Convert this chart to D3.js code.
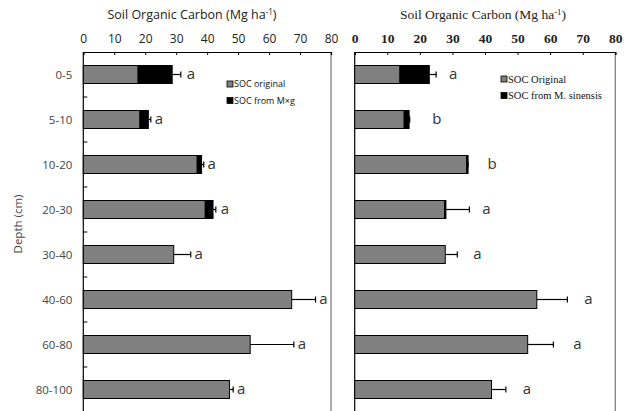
<!DOCTYPE html>
<html><head><meta charset="utf-8">
<script src="https://cdn.jsdelivr.net/npm/d3@7"></script>
<style>body{margin:0;background:#fff}svg{display:block}</style>
</head><body>
<svg id="c" width="628" height="411"></svg>
<script>
const depths = ["0-5","5-10","10-20","20-30","30-40","40-60","60-80","80-100"];
const xTicks = [0,10,20,30,40,50,60,70,80];
// Left panel (Mxg)
const leftOriginal = [17.7,18.3,36.8,39.4,29.2,67.3,53.9,47.2];
const leftFromCrop = [11.0,2.7,1.4,2.5,0,0,0,0];
const leftErr      = [2.8,0.8,0.7,0.9,5.5,7.7,14.1,1.2];
const leftLetters  = ["a","a","a","a","a","a","a","a"];
// Right panel (M. sinensis)
const rightOriginal = [13.9,15.2,34.4,27.6,27.8,55.9,53.1,42.0];
const rightFromCrop = [9.0,1.5,0.4,0.4,0,0,0,0];
const rightErr      = [2.1,0.2,0,7.2,3.7,9.4,7.9,4.4];
const rightLetters  = ["a","b","b","a","a","a","a","a"];

const svg = d3.select("#c");

function panel(opt){
  const g = svg.append("g");
  const x = d3.scaleLinear().domain([0,80]).range([opt.x0,opt.x1]);
  const y = d3.scaleBand().domain(depths).range([52,412]).paddingInner(0.6).paddingOuter(0.3);
  const band = d3.scaleBand().domain(depths).range([52,412]);
  // frame
  g.append("line").attr("x1",opt.x1).attr("x2",opt.x1).attr("y1",52).attr("y2",411).attr("stroke","#777").attr("stroke-width",1.2);
  // top axis
  const ax = g.append("g").attr("transform","translate(0,52)")
    .call(d3.axisTop(x).tickValues(xTicks).tickSize(-3).tickPadding(9));
  ax.select(".domain").attr("stroke","#000").attr("stroke-width",1.2);
  ax.selectAll("text").attr("font-family",opt.font).attr("font-size",opt.tickSize).attr("fill","#222")
    .attr("font-weight",opt.tickWeight);
  // left axis
  g.append("line").attr("x1",opt.x0).attr("x2",opt.x0).attr("y1",52).attr("y2",411).attr("stroke","#000").attr("stroke-width",1.2);
  if(opt.yTicks){
    g.selectAll(".yt").data(depths.slice(1)).join("line")
      .attr("x1",opt.x0).attr("x2",opt.x0+4)
      .attr("y1",d=>band(d)).attr("y2",d=>band(d)).attr("stroke","#000");
    g.selectAll(".yl").data(depths).join("text")
      .attr("x",opt.x0-11).attr("y",d=>y(d)+y.bandwidth()/2).attr("dy","0.35em")
      .attr("text-anchor","end").attr("font-family","Open Sans, sans-serif").attr("font-size",11.5).attr("fill","#444")
      .text(d=>d);
  }
  // bars
  g.selectAll(".bo").data(depths).join("rect")
    .attr("x",x(0)).attr("y",d=>y(d)).attr("height",y.bandwidth())
    .attr("width",(d,i)=>x(opt.orig[i])-x(0))
    .attr("fill","#808080").attr("stroke","#000").attr("stroke-width",1);
  g.selectAll(".bc").data(depths).join("rect")
    .attr("x",(d,i)=>x(opt.orig[i])).attr("y",d=>y(d)).attr("height",y.bandwidth())
    .attr("width",(d,i)=>x(opt.orig[i]+opt.crop[i])-x(opt.orig[i]))
    .attr("fill","#000").attr("stroke",(d,i)=>opt.crop[i]>0?"#000":"none").attr("stroke-width",1);
  // error bars
  const tot = i => opt.orig[i]+opt.crop[i];
  g.selectAll(".eb").data(depths).join("line")
    .attr("x1",(d,i)=>x(tot(i))).attr("x2",(d,i)=>x(tot(i)+opt.err[i]))
    .attr("y1",d=>y(d)+y.bandwidth()/2).attr("y2",d=>y(d)+y.bandwidth()/2)
    .attr("stroke","#000").attr("stroke-width",1.2);
  g.selectAll(".ec").data(depths).join("line")
    .attr("x1",(d,i)=>x(tot(i)+opt.err[i])).attr("x2",(d,i)=>x(tot(i)+opt.err[i]))
    .attr("y1",d=>y(d)+y.bandwidth()/2-3).attr("y2",d=>y(d)+y.bandwidth()/2+3)
    .attr("stroke","#000").attr("stroke-width",1.2);
  // letters
  g.selectAll(".lt").data(depths).join("text")
    .attr("x",(d,i)=>x(tot(i)+opt.err[i])+opt.letterOff[i])
    .attr("y",d=>y(d)+y.bandwidth()/2-1).attr("dy","0.35em")
    .attr("text-anchor","middle").attr("font-family","Open Sans, sans-serif").attr("font-size",15).attr("fill","#333")
    .text((d,i)=>opt.letters[i]);
  // title
  const t = g.append("text").attr("x",opt.titleX).attr("y",19).attr("text-anchor","middle")
    .attr("font-family",opt.font).attr("font-size",opt.titleSize).attr("fill","#222");
  t.append("tspan").text("Soil Organic Carbon (Mg ha");
  t.append("tspan").attr("dy",-4).attr("font-size",opt.titleSize*0.65).text("-1");
  t.append("tspan").attr("dy",4).text(")");
  // legend
  opt.legend.forEach((l,i)=>{
    const ly = opt.legY + i*16.5;
    g.append("rect").attr("x",opt.legX).attr("y",ly-3).attr("width",6).attr("height",6)
      .attr("fill",l.c).attr("stroke","#000").attr("stroke-width",0.8);
    g.append("text").attr("x",opt.legX+7).attr("y",ly).attr("dy","0.35em")
      .attr("font-family",opt.font).attr("font-size",opt.legSize).attr("fill","#111").text(l.t);
  });
}

panel({x0:83.3,x1:331,orig:leftOriginal,crop:leftFromCrop,err:leftErr,letters:leftLetters,
  letterOff:[10,8,8,9,8,8,8,8],yTicks:true,font:"Open Sans, sans-serif",tickSize:12,tickWeight:"normal",
  titleX:192,titleSize:12.5,legX:227,legY:84,legSize:9,
  legend:[{c:"#808080",t:"SOC original"},{c:"#000",t:"SOC from M×g"}]});
panel({x0:354.7,x1:615.3,orig:rightOriginal,crop:rightFromCrop,err:rightErr,letters:rightLetters,
  letterOff:[17,27,24,17,20,21,24,21],yTicks:false,font:"Liberation Serif, serif",tickSize:13.5,tickWeight:"bold",
  titleX:483,titleSize:13.5,legX:501,legY:79,legSize:10.5,
  legend:[{c:"#808080",t:"SOC Original"},{c:"#000",t:"SOC from M. sinensis"}]});

svg.append("text").attr("transform","translate(22,224) rotate(-90)").attr("text-anchor","middle")
  .attr("font-family","Open Sans, sans-serif").attr("font-size",11.5).attr("fill","#444").text("Depth (cm)");
</script>
</body></html>
